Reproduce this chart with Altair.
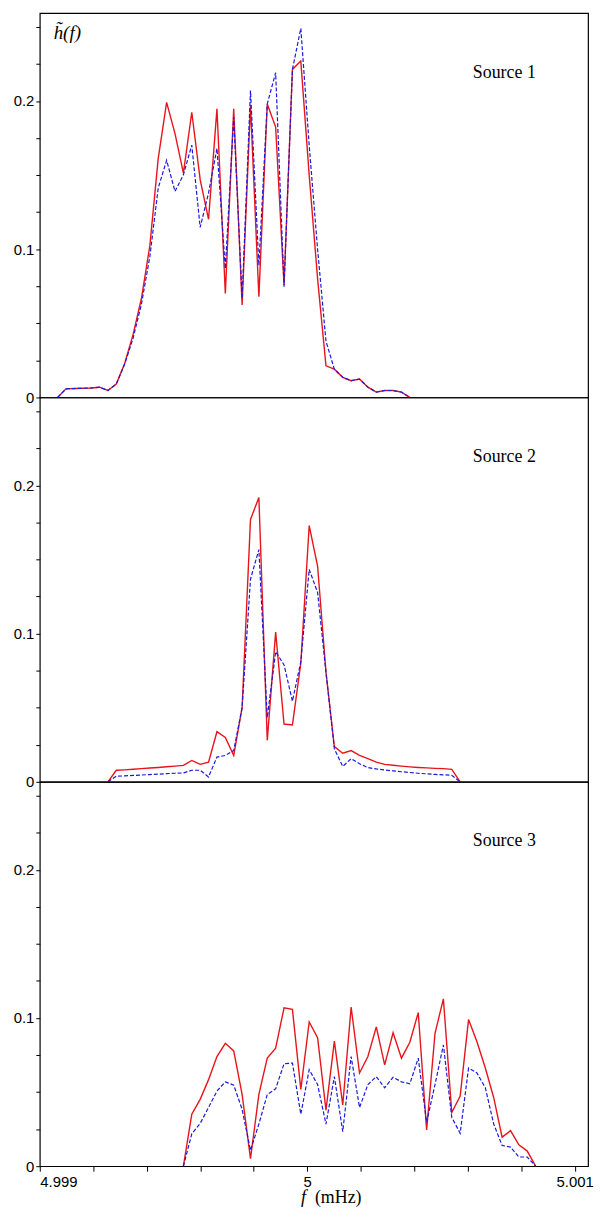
import altair as alt
import pandas as pd

# frequency grid: bin index k -> f (mHz)
F0 = 4.999 + 129 / 544 * 0.002
DF = 8.53 / 544 * 0.002

s1_k = [-13, -12, -11, -10, -9, -8, -7, -6, -5, -4, -3, -2, -1, 0, 1, 2, 3, 4, 5, 6, 7, 8, 9, 10, 11, 12, 13, 14, 15, 16, 17, 18, 19, 20, 21, 22, 23, 24, 25, 26, 27, 28, 29]
s1_red = [0.0, 0.0058, 0.006, 0.0062, 0.0064, 0.0069, 0.0047, 0.0091, 0.0229, 0.0424, 0.0669, 0.1024, 0.1613, 0.1991, 0.178, 0.1513, 0.1924, 0.1469, 0.1202, 0.1947, 0.0702, 0.1947, 0.0624, 0.1969, 0.068, 0.198, 0.1824, 0.0758, 0.2213, 0.2269, 0.15, 0.08, 0.0213, 0.0191, 0.0136, 0.0113, 0.0124, 0.0069, 0.0036, 0.0047, 0.0047, 0.0036, 0.0]
s1_blue = [0.0, 0.0058, 0.006, 0.0062, 0.0064, 0.0069, 0.0047, 0.0091, 0.0225, 0.040, 0.063, 0.095, 0.1413, 0.16, 0.139, 0.1502, 0.1702, 0.1147, 0.138, 0.168, 0.087, 0.189, 0.0669, 0.207, 0.0891, 0.198, 0.2191, 0.0747, 0.2213, 0.249, 0.17, 0.10, 0.038, 0.019, 0.0136, 0.0113, 0.0124, 0.0069, 0.0036, 0.0047, 0.0047, 0.0036, 0.0]

s2_k = [-7, -6, -5, -4, -3, -2, -1, 0, 1, 2, 3, 4, 5, 6, 7, 8, 9, 10, 11, 12, 13, 14, 15, 16, 17, 18, 19, 20, 21, 22, 23, 24, 25, 26, 27, 28, 29, 30, 31, 32, 33, 34, 35]
s2_red = [0.0, 0.0078, 0.0081, 0.0085, 0.0089, 0.0093, 0.0097, 0.0102, 0.0106, 0.0111, 0.0144, 0.0118, 0.0133, 0.0338, 0.030, 0.0178, 0.050, 0.177, 0.1918, 0.028, 0.101, 0.039, 0.0384, 0.08, 0.1729, 0.1456, 0.074, 0.0238, 0.0193, 0.0211, 0.0178, 0.0156, 0.0133, 0.0118, 0.0112, 0.0106, 0.0101, 0.0097, 0.0094, 0.0091, 0.0089, 0.0084, 0.0]
s2_blue = [0.0, 0.0038, 0.004, 0.0043, 0.0046, 0.0049, 0.0052, 0.0055, 0.0058, 0.006, 0.0078, 0.0078, 0.0033, 0.0167, 0.0178, 0.0211, 0.050, 0.1367, 0.1567, 0.0433, 0.0878, 0.0789, 0.0544, 0.0811, 0.1433, 0.1278, 0.074, 0.0222, 0.0104, 0.0156, 0.0122, 0.0096, 0.0087, 0.008, 0.0074, 0.0068, 0.0063, 0.0058, 0.0054, 0.0050, 0.0047, 0.0044, 0.0]

s3_k = list(range(2, 45))
s3_red = [0.0, 0.0351, 0.0451, 0.0584, 0.074, 0.0829, 0.0778, 0.0484, 0.0051, 0.0484, 0.0729, 0.0796, 0.1069, 0.1058, 0.0518, 0.0973, 0.0867, 0.0378, 0.0844, 0.0413, 0.1073, 0.0629, 0.074, 0.094, 0.0684, 0.09, 0.0729, 0.0836, 0.1036, 0.0244, 0.0896, 0.1129, 0.0362, 0.0473, 0.0989, 0.084, 0.0662, 0.0462, 0.0196, 0.024, 0.0144, 0.0102, 0.0]
s3_blue = [0.0, 0.0218, 0.0289, 0.0396, 0.0507, 0.0569, 0.0547, 0.0384, 0.0107, 0.0284, 0.0484, 0.0522, 0.0691, 0.0696, 0.0351, 0.0651, 0.0551, 0.0284, 0.0604, 0.0233, 0.074, 0.0396, 0.0551, 0.0604, 0.0529, 0.06, 0.0569, 0.0556, 0.0729, 0.0296, 0.0551, 0.0818, 0.0329, 0.0222, 0.0662, 0.0629, 0.0529, 0.0284, 0.014, 0.0129, 0.0062, 0.0062, 0.0]

labels = ["Source 1", "Source 2", "Source 3"]

W, H = 552, 387
XDOM = [4.999, 5.00105]
YDOM = [0, 0.2593]
xticks = [round(4.999 + 0.0002 * i, 5) for i in range(11)]
yticks = [round(0.025 * i, 3) for i in range(11)]


def panel(ks, red, blue, label, bottom, top):
    rows = []
    for k, r, b in zip(ks, red, blue):
        f = F0 + k * DF
        rows.append({"f": f, "v": r, "s": "red"})
        rows.append({"f": f, "v": b, "s": "blue"})
    df = pd.DataFrame(rows)
    if bottom:
        xax = alt.Axis(values=xticks, title=None, grid=False, domain=False,
                       tickSize=5, tickColor="black", labelFontSize=15, labelColor="black",
                       labelFont="Liberation Sans", labelPadding=3,
                       labelExpr="abs(datum.value-5)<1e-7 ? '5' : (datum.value<4.99901 ? '4.999' : (abs(datum.value-5.001)<1e-7 ? '5.001' : ''))")
    else:
        xax = None
    x = alt.X("f:Q", scale=alt.Scale(domain=XDOM, nice=False, zero=False), axis=xax)
    y = alt.Y("v:Q", scale=alt.Scale(domain=YDOM, nice=False),
              axis=alt.Axis(values=yticks, title=None, grid=False, domain=False,
                            tickSize=4, tickColor="black", labelFontSize=15, labelColor="black",
                            labelFont="Liberation Sans", labelPadding=2,
                            labelExpr="datum.value==0 ? '0' : (abs(datum.value-0.1)<1e-6 ? '0.1' : (abs(datum.value-0.2)<1e-6 ? '0.2' : ''))"))
    red_l = alt.Chart(df).transform_filter("datum.s=='red'").mark_line(
        color="#e8141b", strokeWidth=1.4).encode(x=x, y=y)
    blue_l = alt.Chart(df).transform_filter("datum.s=='blue'").mark_line(
        color="#1a1adc", strokeWidth=1.2, strokeDash=[4, 2]).encode(x=x, y=y)
    txt = alt.Chart(pd.DataFrame({"t": [label]})).mark_text(
        font="Liberation Serif", fontSize=18, align="left", baseline="middle", color="black"
    ).encode(text="t:N", x=alt.value(436), y=alt.value(60))
    layers = [red_l, blue_l, txt]
    if top:
        h = alt.Chart(pd.DataFrame({"t": ["h\u0303(f)"]})).mark_text(
            font="Liberation Serif", fontSize=19, fontStyle="italic", align="left",
            baseline="middle", color="black").encode(text="t:N", x=alt.value(14), y=alt.value(20))
        layers.append(h)
    if bottom:
        ft = alt.Chart(pd.DataFrame({"t": ["f"]})).mark_text(
            font="Liberation Serif", fontSize=18, fontStyle="italic", align="left",
            baseline="middle", color="black").encode(text="t:N", x=alt.value(263), y=alt.value(H + 32))
        mt = alt.Chart(pd.DataFrame({"t": ["(mHz)"]})).mark_text(
            font="Liberation Serif", fontSize=18, align="left",
            baseline="middle", color="black").encode(text="t:N", x=alt.value(277), y=alt.value(H + 32))
        layers += [ft, mt]
    return alt.layer(*layers).properties(width=W, height=H)


chart = alt.vconcat(
    panel(s1_k, s1_red, s1_blue, labels[0], False, True),
    panel(s2_k, s2_red, s2_blue, labels[1], False, False),
    panel(s3_k, s3_red, s3_blue, labels[2], True, False),
    spacing=0,
    bounds="flush",
).properties(
    padding={"left": 4, "top": 0, "right": 0, "bottom": 0},
    background="white",
).configure_view(stroke="black", strokeWidth=1.2)

chart.save("out.html", embed_options={"renderer": "svg", "actions": False})
